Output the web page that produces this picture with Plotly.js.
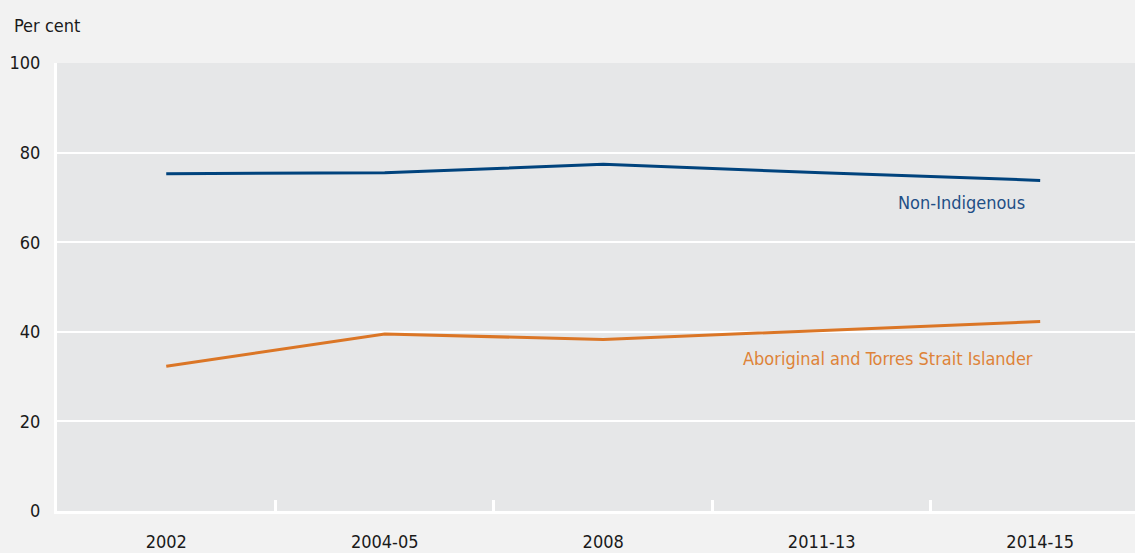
<!DOCTYPE html>
<html>
<head>
<meta charset="utf-8">
<script src="https://cdn.plot.ly/plotly-3.0.1.min.js"></script>
<style>
  html, body { margin: 0; padding: 0; background: #f2f2f2; }
  #chart { width: 1135px; height: 553px; }
  svg text { font-stretch: condensed !important; }
</style>
</head>
<body>
<div id="chart"></div>
<script>
// Survey periods along the x axis
const periods = ['2002', '2004-05', '2008', '2011-13', '2014-15'];

// Per cent values for each population group
const nonIndigenous = [75.3, 75.5, 77.4, 75.5, 73.8];
const indigenous = [32.3, 39.5, 38.3, 40.3, 42.3];

const yTicks = [0, 20, 40, 60, 80, 100];

const FONT = '"Liberation Sans Narrow", "Arial Narrow", "DejaVu Sans", sans-serif';
const BLUE = '#00437d';
const ORANGE = '#db7626';
const SIZE = 18;

const traces = [
  {
    x: periods, y: nonIndigenous, type: 'scatter', mode: 'lines',
    line: { color: BLUE, width: 3 }, hoverinfo: 'x+y', name: 'Non-Indigenous'
  },
  {
    x: periods, y: indigenous, type: 'scatter', mode: 'lines',
    line: { color: ORANGE, width: 3 }, hoverinfo: 'x+y', name: 'Aboriginal and Torres Strait Islander'
  }
];

const last = periods.length - 1;

const layout = {
  width: 1135, height: 553,
  margin: { l: 57, r: 0, t: 63, b: 42 },
  paper_bgcolor: '#f2f2f2',
  plot_bgcolor: '#e6e7e8',
  showlegend: false,
  font: { family: FONT, size: SIZE, color: '#1a1a1a' },
  xaxis: {
    type: 'category',
    range: [-0.5, 4.434],
    tickson: 'boundaries',
    ticks: 'inside', ticklen: 11, tickwidth: 3, tickcolor: '#ffffff',
    showgrid: false, zeroline: false,
    showline: true, linecolor: '#ffffff', linewidth: 3,
    tickfont: { family: FONT, size: SIZE, color: '#1a1a1a' },
    ticklabelstandoff: 12,
    fixedrange: true
  },
  yaxis: {
    range: [0, 100],
    tickvals: yTicks,
    ticktext: yTicks.map(String),
    ticks: '',
    showgrid: true, gridcolor: '#ffffff', gridwidth: 2,
    zeroline: false,
    showline: true, linecolor: '#ffffff', linewidth: 3,
    tickfont: { family: FONT, size: SIZE, color: '#1a1a1a' },
    ticklabelstandoff: 10,
    fixedrange: true
  },
  annotations: [
    {
      text: 'Per cent', xref: 'paper', yref: 'paper',
      x: -45 / 1078, y: 1, xanchor: 'left', yanchor: 'middle', yshift: 38,
      showarrow: false, font: { family: FONT, size: SIZE, color: '#1a1a1a' }
    },
    {
      text: 'Non-Indigenous', x: periods[last], y: nonIndigenous[last],
      xanchor: 'right', yanchor: 'middle', xshift: -13, yshift: -22,
      showarrow: false, font: { family: FONT, size: SIZE, color: '#1f4f86' }
    },
    {
      text: 'Aboriginal and Torres Strait Islander', x: periods[last], y: indigenous[last],
      xanchor: 'right', yanchor: 'middle', xshift: -5, yshift: -37,
      showarrow: false, font: { family: FONT, size: SIZE, color: '#de8338' }
    }
  ]
};

Plotly.newPlot('chart', traces, layout, { displayModeBar: false, staticPlot: true });
</script>
</body>
</html>
